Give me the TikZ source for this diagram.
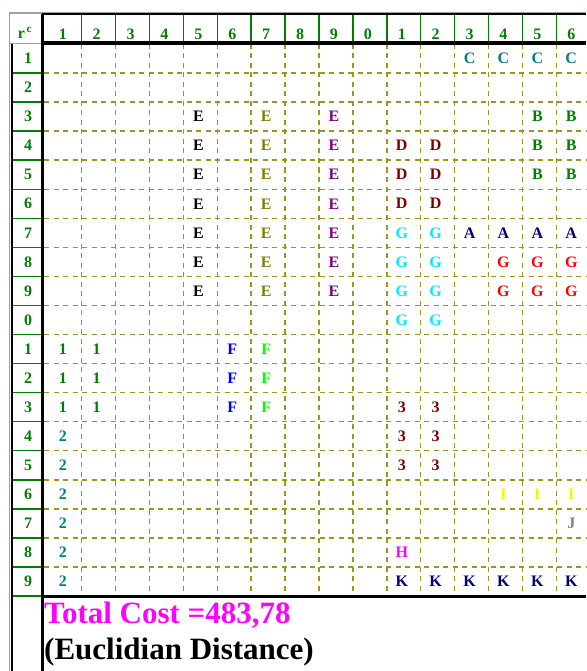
\documentclass[tikz,border=0pt]{standalone}
\usepackage{fontspec}
\setmainfont{Liberation Serif}
\usetikzlibrary{positioning}
\definecolor{gridOlive}{RGB}{155,150,30}
\definecolor{hdrGreen}{RGB}{0,128,0}
\definecolor{tealC}{RGB}{0,128,128}
\definecolor{oliveE}{RGB}{128,128,0}
\definecolor{purpleE}{RGB}{128,0,128}
\definecolor{maroonD}{RGB}{128,0,0}
\definecolor{cyanG}{RGB}{0,235,255}
\definecolor{navyA}{RGB}{0,0,128}
\definecolor{redG}{RGB}{255,0,0}
\definecolor{blueF}{RGB}{0,0,255}
\definecolor{limeF}{RGB}{0,255,0}
\definecolor{yellowI}{RGB}{255,240,0}
\definecolor{grayJ}{RGB}{128,128,128}
\definecolor{magentaH}{RGB}{255,0,255}
\definecolor{frameGray}{RGB}{150,160,180}

\begin{document}
\begin{tikzpicture}[x=1pt, y=-1pt,
  declare function={cx(\c)=47.8+33.9*(\c-0.5)-2; ry(\r)=44+29.05*(\r-0.5);},
  hdr/.style={font=\fontsize{16}{16}\selectfont\bfseries, text=hdrGreen, inner sep=0pt},
  cell/.style={font=\fontsize{16}{16}\selectfont\bfseries, inner sep=0pt},
  griddash/.style={gridOlive, line width=1.5pt, dash pattern=on 5pt off 4.5pt},
  bigtext/.style={font=\fontsize{31}{31}\selectfont\bfseries, inner sep=0pt, anchor=base west}]
  \useasboundingbox (0,0) rectangle (586,671);

  % Frame of the sheet
  \draw[frameGray, line width=1pt] (9.5,671) -- (9.5,13) -- (586,13);
  \draw[frameGray, line width=0.8pt] (9.5,13) rectangle (42,43);
  \node[hdr] (corner) at (25,33) {r\textsuperscript{\,c}};

  % Dashed grid
  \foreach \k in {1,...,15}
    \draw[griddash] ({47.8+33.9*\k},44) -- ({47.8+33.9*\k},596);
  \foreach \r in {1,...,18}
    \draw[griddash] (44,{44+29.05*\r}) -- (586,{44+29.05*\r});

  % Column headers
  \foreach \k in {1,...,15}
    \draw[hdrGreen, line width=1.5pt] ({47.8+33.9*\k},15) -- ({47.8+33.9*\k},42);
  \foreach \k [evaluate=\k as \d using {int(mod(\k,10))}] in {1,...,16}
    \node[hdr] (hd\k) at ({cx(\k)},34) {\d};

  % Row labels
  \foreach \r in {1,...,19}
    \draw[hdrGreen, line width=1.5pt] (12,{44+29.05*\r}) -- (41,{44+29.05*\r});
  \foreach \r [evaluate=\r as \d using {int(mod(\r,10))}] in {1,...,19}
    \node[hdr] (rw\r) at (28,{ry(\r)}) {\d};

  % Thick borders
  \draw[black, line width=2pt] (42,14.5) -- (586,14.5);
  \draw[black, line width=2pt] (12,44) -- (12,671);
  \draw[black, line width=3.5pt] (42.5,14) -- (42.5,671);
  \draw[black, line width=3.5pt] (41,43) -- (586,43);
  \draw[black, line width=3pt] (41,596) -- (586,596);

  % Cell contents
  \foreach \c in {13,...,16}
    \node[cell, text=tealC] (c1-\c) at ({cx(\c)},{ry(1)}) {C};
  \foreach \r in {3,...,9} {
    \node[cell, text=black] (e1-\r) at ({cx(5)},{ry(\r)}) {E};
    \node[cell, text=oliveE] (e2-\r) at ({cx(7)},{ry(\r)}) {E};
    \node[cell, text=purpleE] (e3-\r) at ({cx(9)},{ry(\r)}) {E};
  }
  \foreach \r in {3,4,5}
    \foreach \c in {15,16}
      \node[cell, text=hdrGreen] (b\r-\c) at ({cx(\c)},{ry(\r)}) {B};
  \foreach \r in {4,5,6}
    \foreach \c in {11,12}
      \node[cell, text=maroonD] (d\r-\c) at ({cx(\c)},{ry(\r)}) {D};
  \foreach \r in {7,...,10}
    \foreach \c in {11,12}
      \node[cell, text=cyanG] (g\r-\c) at ({cx(\c)},{ry(\r)}) {G};
  \foreach \c in {13,...,16}
    \node[cell, text=navyA] (a7-\c) at ({cx(\c)},{ry(7)}) {A};
  \foreach \r in {8,9}
    \foreach \c in {14,15,16}
      \node[cell, text=redG] (h\r-\c) at ({cx(\c)},{ry(\r)}) {G};
  \foreach \r in {11,12,13} {
    \node[cell, text=hdrGreen] (o\r-1) at ({cx(1)},{ry(\r)}) {1};
    \node[cell, text=hdrGreen] (o\r-2) at ({cx(2)},{ry(\r)}) {1};
    \node[cell, text=blueF] (f\r-6) at ({cx(6)},{ry(\r)}) {F};
    \node[cell, text=limeF] (f\r-7) at ({cx(7)},{ry(\r)}) {F};
  }
  \foreach \r in {13,14,15}
    \foreach \c in {11,12}
      \node[cell, text=maroonD] (t\r-\c) at ({cx(\c)},{ry(\r)}) {3};
  \foreach \r in {14,...,19}
    \node[cell, text=tealC] (w\r-1) at ({cx(1)},{ry(\r)}) {2};
  \foreach \c in {14,15,16}
    \node[cell, text=yellowI] (i16-\c) at ({cx(\c)},{ry(16)}) {I};
  \node[cell, text=grayJ] (j17-16) at ({cx(16)},{ry(17)}) {J};
  \node[cell, text=magentaH] (h18-11) at ({cx(11)},{ry(18)}) {H};
  \foreach \c in {11,...,16}
    \node[cell, text=navyA] (k19-\c) at ({cx(\c)},{ry(19)}) {K};

  % Result
  \node[bigtext, text=magentaH] (cost) at (44,623) {Total Cost =483,78};
  \node[bigtext, text=black] (metric) at (44,659) {(Euclidian Distance)};
\end{tikzpicture}
\end{document}
